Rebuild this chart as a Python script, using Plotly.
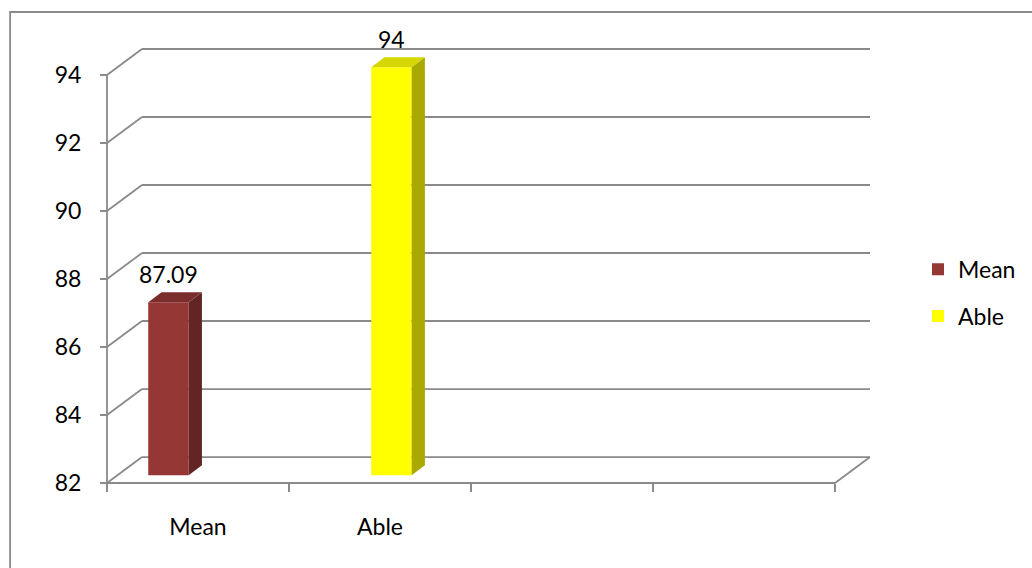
import plotly.graph_objects as go

# ---- data ----
categories = ["Mean", "Able", "", ""]
series_names = ["Mean", "Able"]
series_values = [87.09, 94]
series_category = [0, 1]
y_ticks = [82, 84, 86, 88, 90, 92, 94]
y_min, y_max = 82, 94

# ---- style / geometry constants ----
front_colors = ["#953735", "#FFFF00"]
side_colors = ["#632523", "#A9A900"]
top_colors = ["#7A2D2B", "#D6D600"]
grid_color = "#8A8A8A"
FONT = "Lato"
FS = 23

SX = 182.25          # px per category
SY = 34.04           # px per value unit
DX_PX, DY_PX = 35, 26  # 3D depth offset of back wall
X0_PX, Y0_PX = 107, 483.5
PAD = 6
DXu, DYu = DX_PX / SX, DY_PX / SY
BAR_W = 0.222
SLOT = [0.28, 0.505]
F0, F1 = 0.30, 0.68   # bar depth (front / back) as fraction of full depth

ncat = len(categories)
x_lo, x_hi = -PAD / SX, ncat + DXu + PAD / SX
y_lo, y_hi = y_min - PAD / SY, y_max + DYu + PAD / SY
left_px = X0_PX - PAD
right_px = X0_PX + (ncat + DXu) * SX + PAD
bottom_px = Y0_PX + PAD
top_px = Y0_PX - (y_max - y_min + DYu) * SY - PAD
W = 1032
H = 568
Wp = right_px - left_px
Hp = bottom_px - top_px

fig = go.Figure()

# front faces via bars + side/top faces as polygons
for i, (name, val, cat) in enumerate(zip(series_names, series_values, series_category)):
    xc = cat + SLOT[i]
    fx0 = xc - BAR_W / 2 + F0 * DXu
    fx1 = xc + BAR_W / 2 + F0 * DXu
    fb = y_min + F0 * DYu
    ft = val + F0 * DYu
    ddx = (F1 - F0) * DXu
    ddy = (F1 - F0) * DYu
    fig.add_trace(go.Bar(
        x=[xc + F0 * DXu], y=[val - y_min], base=[fb], width=BAR_W,
        name=name, legendgroup=name,
        marker=dict(color=front_colors[i], line=dict(width=0)),
        hovertemplate=f"{name}: {val}<extra></extra>",
    ))
    # side face
    fig.add_trace(go.Scatter(
        x=[fx1, fx1, fx1 + ddx, fx1 + ddx, fx1],
        y=[fb, ft, ft + ddy, fb + ddy, fb],
        mode="lines", fill="toself", fillcolor=side_colors[i],
        line=dict(width=0, color=side_colors[i]), showlegend=False, hoverinfo="skip",
    ))
    # top face
    fig.add_trace(go.Scatter(
        x=[fx0, fx1, fx1 + ddx, fx0 + ddx, fx0],
        y=[ft, ft, ft + ddy, ft + ddy, ft],
        mode="lines", fill="toself", fillcolor=top_colors[i],
        line=dict(width=0, color=top_colors[i]), showlegend=False, hoverinfo="skip",
    ))
    # data label
    fig.add_annotation(
        x=(fx0 + fx1) / 2, y=val + F1 * DYu, text=f"{val:g}", showarrow=False,
        yanchor="middle", xanchor="center", yshift=18,
        font=dict(family=FONT, size=FS, color="black"),
    )

# walls / floor / axis lines
line_style = dict(color=grid_color, width=1.8)
for v in y_ticks:
    fig.add_shape(type="line", xref="x", yref="y", layer="below",
                  x0=DXu, x1=ncat + DXu, y0=v + DYu, y1=v + DYu, line=line_style)
    fig.add_shape(type="line", xref="x", yref="y", layer="below",
                  x0=0, x1=DXu, y0=v, y1=v + DYu, line=line_style)
fig.add_shape(type="line", xref="x", yref="y", layer="below",
              x0=0, x1=ncat, y0=y_min, y1=y_min, line=line_style)
fig.add_shape(type="line", xref="x", yref="y", layer="below",
              x0=ncat, x1=ncat + DXu, y0=y_min, y1=y_min + DYu, line=line_style)
fig.add_shape(type="line", xref="x", yref="y", layer="below",
              x0=0, x1=0, y0=y_min, y1=y_max, line=line_style)

# outer chart border
fig.add_shape(type="rect", xref="paper", yref="paper",
              x0=(10 - left_px) / Wp, x1=(1045 - left_px) / Wp,
              y0=(bottom_px - 585) / Hp, y1=(bottom_px - 12) / Hp,
              line=dict(color=grid_color, width=1.8))

fig.update_layout(
    width=W, height=H,
    margin=dict(l=left_px, r=W - right_px, t=top_px, b=H - bottom_px, pad=0),
    paper_bgcolor="white", plot_bgcolor="white",
    barmode="overlay",
    showlegend=True,
    legend=dict(
        x=(918 - left_px) / Wp, xanchor="left",
        y=(bottom_px - 248) / Hp, yanchor="top",
        font=dict(family=FONT, size=FS, color="black"),
        tracegroupgap=14, bgcolor="rgba(0,0,0,0)",
    ),
    xaxis=dict(
        range=[x_lo, x_hi], showgrid=False, zeroline=False, showline=False,
        tickmode="array", tickvals=[c + 0.5 for c in range(ncat)], ticktext=categories,
        ticks="", ticklabelstandoff=28,
        tickfont=dict(family=FONT, size=FS, color="black"),
        anchor="free", position=PAD / Hp,
        minor=dict(tickmode="array", tickvals=list(range(ncat + 1)), ticks="outside",
                   ticklen=8, tickcolor=grid_color, tickwidth=1.8, showgrid=False),
        fixedrange=True,
    ),
    yaxis=dict(
        range=[y_lo, y_hi], showgrid=False, zeroline=False, showline=False,
        tickmode="array", tickvals=y_ticks, ticks="outside", ticklen=7,
        tickcolor=grid_color, tickwidth=1.8, ticklabelstandoff=14,
        tickfont=dict(family=FONT, size=FS, color="black"),
        anchor="free", position=PAD / Wp,
        fixedrange=True,
    ),
)

fig.write_html("out.html")
